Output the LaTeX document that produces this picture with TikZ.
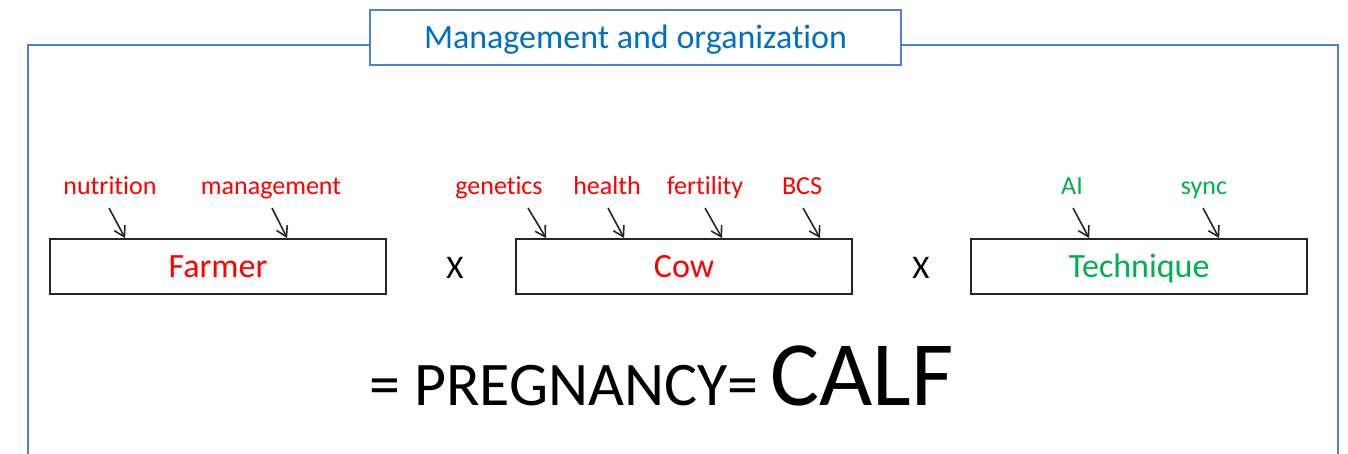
\documentclass[tikz,border=0pt]{standalone}
\usepackage{fontspec}
\setmainfont[Ligatures=NoCommon]{Carlito}
\usetikzlibrary{arrows.meta,calc}
\definecolor{frameblue}{HTML}{4F7FD6}
\definecolor{titleblue}{HTML}{0070C0}
\definecolor{factorred}{HTML}{FF0000}
\definecolor{factorgreen}{HTML}{00B050}
\begin{document}
\begin{tikzpicture}[x=1pt,y=-1pt,
  frame/.style={draw=frameblue, line width=1.6pt},
  titlebox/.style={draw=frameblue, line width=1.6pt, fill=white, minimum width=531pt,
    minimum height=55pt, inner sep=0pt, text=titleblue,
    font=\fontsize{34}{40}\selectfont, text height=21.5pt, text depth=0pt},
  factor/.style={draw=black!85, line width=1.8pt, minimum width=336pt, minimum height=55pt,
    inner sep=0pt, font=\fontsize{34}{40}\selectfont, text height=21.5pt, text depth=0pt},
  influence/.style={anchor=base, inner sep=0pt, font=\fontsize{26}{30}\selectfont},
  times/.style={inner sep=0pt, font=\fontsize{33}{40}\selectfont, text height=21pt, text depth=0pt},
  feed/.style={draw=black!85, line width=1.6pt, -{Straight Barb[length=10pt,width=12pt]}}
]
\useasboundingbox (0,0) rectangle (1348,453);

% outer frame, open at the bottom edge
\draw[frame] (28,458) -- (28,45) -- (1338,45) -- (1338,458);
\node[titlebox] (title) at (635.5,37.5) {Management and organization};

% the three factors
\node[factor, text=factorred]   (farmer) at (218,266.5)  {Farmer};
\node[factor, text=factorred]   (cow)    at (684,266.5)  {Cow};
\node[factor, text=factorgreen] (tech)   at (1139,266.5) {Technique};

\node[times] (x1) at (455,268) {X};
\node[times] (x2) at (921,268) {X};

% influences on each factor
\node[influence, text=factorred]   (nutrition)  at (110,194)  {nutrition};
\node[influence, text=factorred]   (management) at (271,194)  {management};
\node[influence, text=factorred]   (genetics)   at (499,194)  {genetics};
\node[influence, text=factorred]   (health)     at (607,194)  {health};
\node[influence, text=factorred]   (fertility)  at (705,194)  {fertility};
\node[influence, text=factorred]   (bcs)        at (802,194)  {BCS};
\node[influence, text=factorgreen] (ai)         at (1072,194) {AI};
\node[influence, text=factorgreen] (sync)       at (1204,194) {sync};

\draw[feed] ($(nutrition.base)+(-1,14)$)  -- ($(farmer.north west)+(76,0)$);
\draw[feed] ($(management.base)+(1,14)$)  -- ($(farmer.north west)+(238,0)$);
\draw[feed] ($(genetics.base)+(29,14)$)   -- ($(cow.north west)+(31,0)$);
\draw[feed] ($(health.base)+(1,14)$)      -- ($(cow.north west)+(109,0)$);
\draw[feed] ($(fertility.base)+(0,14)$)   -- ($(cow.north west)+(207,0)$);
\draw[feed] ($(bcs.base)+(1,14)$)         -- ($(cow.north west)+(305,0)$);
\draw[feed] ($(ai.base)+(1,14)$)          -- ($(tech.north west)+(119,0)$);
\draw[feed] ($(sync.base)+(-1,14)$)       -- ($(tech.north west)+(249,0)$);

% outcome
\node[anchor=base, inner sep=0pt, font=\fontsize{62}{70}\selectfont] (pregnancy) at (564,405) {= PREGNANCY=};
\node[anchor=base west, inner sep=0pt, font=\fontsize{92}{100}\selectfont] (calf) at (770,405) {CALF};
\end{tikzpicture}
\end{document}
